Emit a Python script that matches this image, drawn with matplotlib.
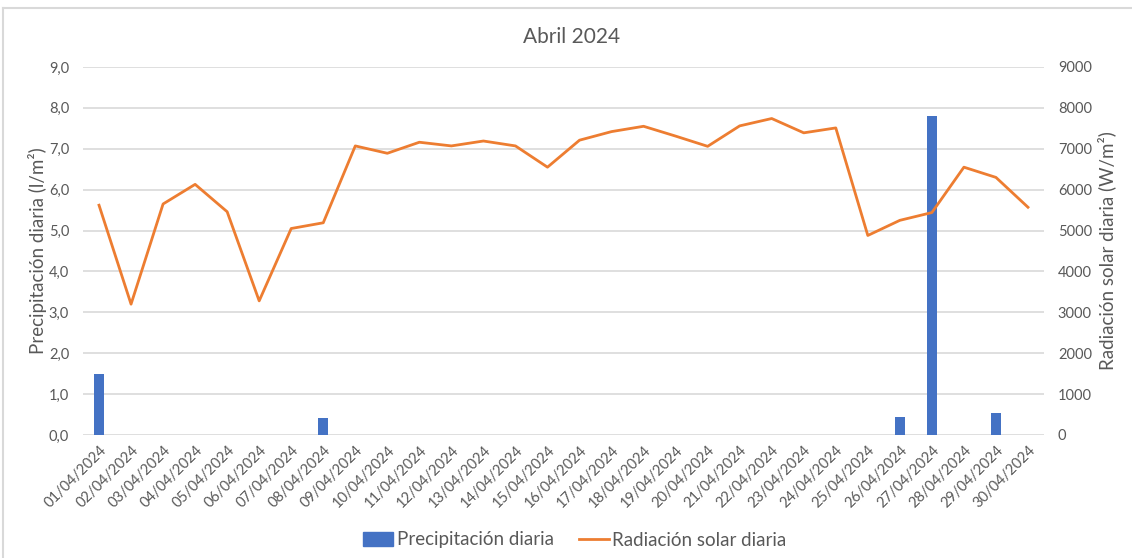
import numpy as np
import matplotlib.pyplot as plt
from matplotlib.lines import Line2D

plt.rcParams['font.family'] = ['Lato', 'DejaVu Sans']

dias = [f"{d:02d}/04/2024" for d in range(1, 31)]
precipitacion = [1.5, 0, 0, 0, 0, 0, 0, 0.42, 0, 0,
                 0, 0, 0, 0, 0, 0, 0, 0, 0, 0,
                 0, 0, 0, 0, 0, 0.45, 7.8, 0, 0.55, 0]
radiacion = [5620, 3200, 5650, 6130, 5460, 3280, 5050, 5190, 7070, 6890,
             7160, 7070, 7190, 7070, 6550, 7210, 7420, 7550, 7310, 7060,
             7560, 7740, 7390, 7510, 4880, 5250, 5440, 6550, 6300, 5570]

gris = '#595959'
azul = '#4472C4'
naranja = '#ED7D31'

fig = plt.figure(figsize=(11.32, 5.58), dpi=100)
ax = fig.add_axes([83 / 1132, 123 / 558, (1044 - 83) / 1132, (435 - 67) / 558])
ax2 = ax.twinx()

x = np.arange(len(dias))
ax.bar(x, precipitacion, width=0.3, color=azul, zorder=2)
ax2.plot(x, radiacion, color=naranja, lw=2, zorder=3)

ax.set_xlim(-0.5, len(dias) - 0.5)
ax.set_ylim(0, 9)
ax.set_yticks(np.arange(0, 10, 1))
ax.set_yticklabels([f"{v:.1f}".replace('.', ',') for v in range(10)])
ax2.set_ylim(0, 9000)
ax2.set_yticks(np.arange(0, 10000, 1000))

ax.set_xticks(x)
ax.set_xticklabels(dias, rotation=45, ha='right', rotation_mode='anchor')
ax.yaxis.grid(True, color='#d9d9d9', lw=1.2, zorder=0)
ax.set_axisbelow(True)

for a in (ax, ax2):
    for s in a.spines.values():
        s.set_visible(False)
    a.tick_params(length=0, colors=gris, labelsize=10.5)
ax.tick_params(axis='x', pad=6)
ax.tick_params(axis='y', pad=10)
ax2.tick_params(axis='y', pad=10)

ax.set_ylabel('Precipitación diaria (l/m²)', color=gris, fontsize=13.5, labelpad=1)
ax2.set_ylabel('Radiación solar diaria (W/m²)', color=gris, fontsize=13.5, labelpad=4)
fig.text(0.5045, 1 - 37 / 558, 'Abril 2024', color=gris, fontsize=15,
         ha='center', va='center')

handles = [plt.Rectangle((0, 0), 1, 1, color=azul),
           Line2D([0], [0], color=naranja, lw=2)]
fig.legend(handles, ['Precipitación diaria', 'Radiación solar diaria'],
           loc='center', bbox_to_anchor=(0.508, 1 - 540 / 558), ncol=2,
           frameon=False, fontsize=13.5, labelcolor=gris,
           handlelength=1.6, columnspacing=1.3, handletextpad=0.2)

# borde del gráfico
fig.add_artist(Line2D([3 / 1132, 1], [1 - 8 / 558, 1 - 8 / 558], color='#d9d9d9', lw=1.5))
fig.add_artist(Line2D([3 / 1132, 3 / 1132], [0, 1 - 8 / 558], color='#d9d9d9', lw=1.5))

fig.savefig('out.png', dpi=100, facecolor='white')
